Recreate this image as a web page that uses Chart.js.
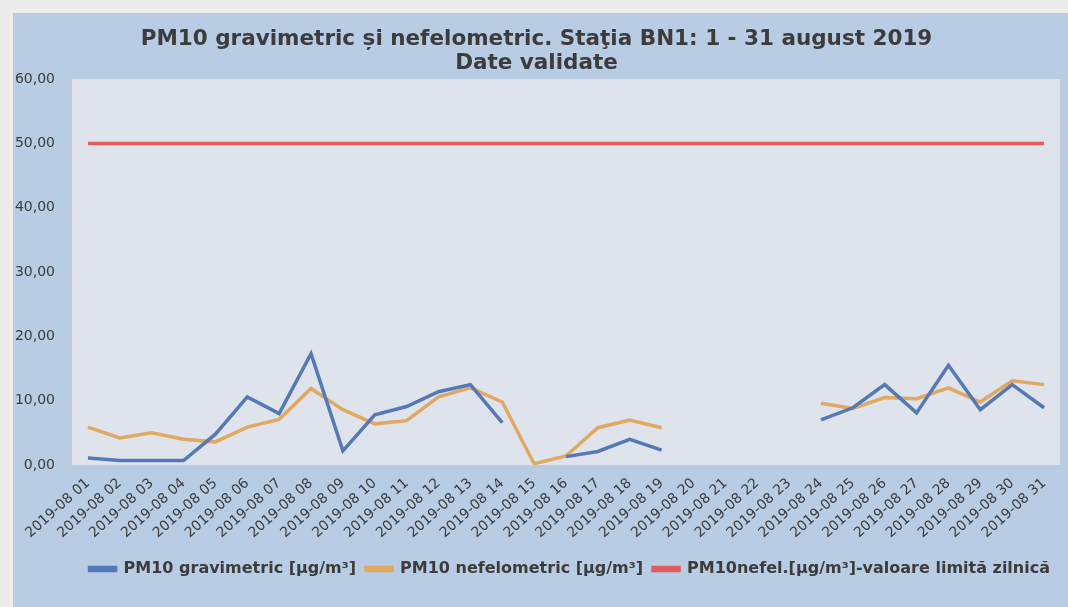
<!DOCTYPE html>
<html>
<head>
<meta charset="utf-8">
<script src="https://cdn.jsdelivr.net/npm/chart.js@4"></script>
<style>
	body { margin: 0; background: #ececec; }
	#wrap { position: absolute; left: 13px; top: 13px; width: 1055px; height: 594px; }
</style>
</head>
<body>
<div id="wrap"><canvas id="pmChart"></canvas></div>
<script>
"use strict";

var days = [
	"2019-08 01", "2019-08 02", "2019-08 03", "2019-08 04", "2019-08 05", "2019-08 06",
	"2019-08 07", "2019-08 08", "2019-08 09", "2019-08 10", "2019-08 11", "2019-08 12",
	"2019-08 13", "2019-08 14", "2019-08 15", "2019-08 16", "2019-08 17", "2019-08 18",
	"2019-08 19", "2019-08 20", "2019-08 21", "2019-08 22", "2019-08 23", "2019-08 24",
	"2019-08 25", "2019-08 26", "2019-08 27", "2019-08 28", "2019-08 29", "2019-08 30",
	"2019-08 31"
];

var gravimetric = [
	1.1, 0.7, 0.7, 0.7, 4.8, 10.6, 8.0, 17.3, 2.2, 7.8, 9.1, 11.4, 12.5, 6.6, null, 1.3,
	2.1, 4.0, 2.3, null, null, null, null, 7.0, 8.9, 12.5, 8.1, 15.5, 8.6, 12.5, 8.9
];

var nefelometric = [
	5.9, 4.2, 5.0, 4.0, 3.6, 5.9, 7.1, 11.9, 8.6, 6.4, 6.9, 10.6, 12.0, 9.8, 0.2, 1.4,
	5.8, 7.0, 5.8, null, null, null, null, 9.6, 8.8, 10.5, 10.3, 12.0, 9.8, 13.1, 12.5
];

var limitValue = [
	50, 50, 50, 50, 50, 50, 50, 50, 50, 50, 50, 50, 50, 50, 50, 50,
	50, 50, 50, 50, 50, 50, 50, 50, 50, 50, 50, 50, 50, 50, 50
];

var textColor = "#3c3c3c";

Chart.defaults.font.family = "'DejaVu Sans', 'Liberation Sans', sans-serif";
Chart.defaults.color = textColor;

// panel and plot area backgrounds
var backgroundPlugin = {
	id: "panelBackground",
	beforeDraw: function (chart) {
		var ctx = chart.ctx;
		var area = chart.chartArea;
		ctx.save();
		ctx.fillStyle = "#b8cce3";
		ctx.fillRect(0, 0, chart.width, chart.height);
		ctx.fillStyle = "#dfe3ec";
		ctx.fillRect(area.left, area.top, area.right - area.left, area.bottom - area.top);
		ctx.restore();
	}
};

function makeDataset(label, values, color) {
	return {
		label: label,
		data: values,
		borderColor: color,
		backgroundColor: color,
		borderWidth: 3.5,
		pointRadius: 0,
		pointHoverRadius: 0,
		tension: 0,
		spanGaps: false
	};
}

function formatTick(value) {
	return value.toFixed(2).replace(".", ",");
}

var ctx = document.getElementById("pmChart").getContext("2d");

var pmChart = new Chart(ctx, {
	type: "line",
	data: {
		labels: days,
		datasets: [
			makeDataset("PM10 gravimetric [µg/m³]", gravimetric, "#5579b8"),
			makeDataset("PM10 nefelometric [µg/m³]", nefelometric, "#dfa95f"),
			makeDataset("PM10nefel.[µg/m³]-valoare limită zilnică", limitValue, "#e05d5c")
		]
	},
	options: {
		responsive: true,
		maintainAspectRatio: false,
		animation: false,
		layout: {
			padding: { left: 0, right: 8, top: 0, bottom: 20 }
		},
		plugins: {
			title: {
				display: true,
				text: ["PM10 gravimetric și nefelometric. Staţia BN1: 1 - 31 august 2019", "Date validate"],
				color: textColor,
				font: { size: 21.5, weight: "bold", lineHeight: 1.12 },
				padding: { top: 14, bottom: 4 }
			},
			legend: {
				position: "bottom",
				align: "end",
				labels: {
					color: textColor,
					font: { size: 16, weight: "bold" },
					boxWidth: 26,
					boxHeight: 3,
					padding: 10
				}
			},
			tooltip: { enabled: false }
		},
		scales: {
			x: {
				offset: true,
				grid: { display: false },
				border: { display: false },
				afterFit: function (scale) {
					scale.height = 86;
				},
				ticks: {
					autoSkip: false,
					minRotation: 42,
					maxRotation: 42,
					color: textColor,
					font: { size: 14 },
					padding: 2
				}
			},
			y: {
				min: 0,
				max: 60,
				grid: { display: false },
				border: { display: false },
				afterFit: function (scale) {
					scale.width = 59;
				},
				ticks: {
					stepSize: 10,
					color: textColor,
					font: { size: 14 },
					padding: 9,
					callback: formatTick
				}
			}
		}
	},
	plugins: [backgroundPlugin]
});
</script>
</body>
</html>
